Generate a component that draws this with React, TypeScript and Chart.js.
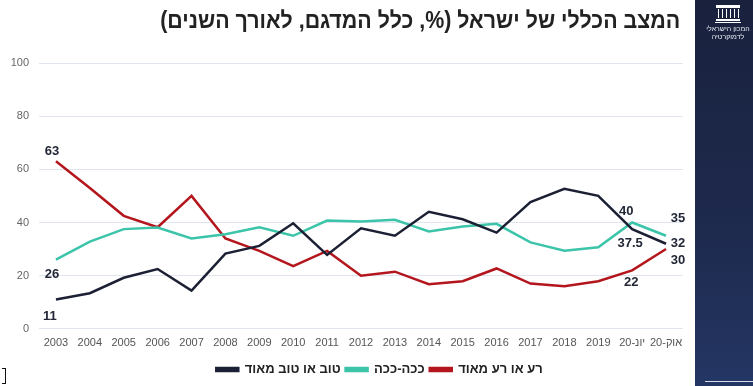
import React, { useEffect, useRef } from "react";
import { Chart, registerables } from "chart.js";

Chart.register(...registerables);

const categories = [
  "2003", "2004", "2005", "2006", "2007", "2008", "2009", "2010", "2011", "2012",
  "2013", "2014", "2015", "2016", "2017", "2018", "2019", "יונ-20", "אוק-20",
];

const goodValues = [11, 13.4, 19.2, 22.5, 14.4, 28.3, 31.2, 39.7, 27.8, 37.8, 35, 44, 41.2, 36.2, 47.7, 52.7, 50, 37.5, 32];
const sosoValues = [26, 32.8, 37.5, 38.1, 34, 35.6, 38.2, 35, 40.7, 40.4, 41, 36.6, 38.5, 39.5, 32.5, 29.4, 30.7, 40, 35];
const badValues = [63, 53, 42.5, 38.2, 50, 34, 29.3, 23.6, 29.3, 20, 21.5, 16.8, 17.9, 22.7, 17, 16, 17.9, 22, 30];

const seriesNames = ["טוב או טוב מאוד", "ככה-ככה", "רע או רע מאוד"];
const yTicks = [0, 20, 40, 60, 80, 100];

// which points carry a value label (dataset index, point index)
const labelledPoints = [
  [2, 0], [1, 0], [0, 0],
  [1, 17], [0, 17], [2, 17],
  [1, 18], [0, 18], [2, 18],
];

const TITLE = "המצב הכללי של ישראל (%, כלל המדגם, לאורך השנים)";
const FONT = '"Liberation Sans", Arial, sans-serif';

// label offsets relative to the point (layout only)
const labelOffsets = [
  [-4, -10], [-4, 15], [-6, 17],
  [-6, -11], [-2, 14], [-1, 12],
  [12, -17], [12, 0], [12, 11],
];

const pointLabelPlugin = {
  id: "pointLabelPlugin",
  afterDatasetsDraw(chart: any) {
    const ctx = chart.ctx;
    ctx.save();
    ctx.font = `bold 13px ${FONT}`;
    ctx.fillStyle = "#222736";
    ctx.textAlign = "center";
    ctx.textBaseline = "middle";
    labelledPoints.forEach(([ds, idx], i) => {
      const el = chart.getDatasetMeta(ds).data[idx];
      const v = chart.data.datasets[ds].data[idx];
      const [dx, dy] = labelOffsets[i];
      ctx.fillText(String(v), el.x + dx, el.y + dy);
    });
    ctx.restore();
  },
};

const legendShiftPlugin = {
  id: "legendShiftPlugin",
  afterLayout(chart: any) {
    const lg = chart.legend;
    if (lg) {
      lg.left += 38;
      lg.right += 38;
    }
  },
};

function ChartCanvas() {
  const ref = useRef<HTMLCanvasElement | null>(null);
  useEffect(() => {
    if (!ref.current) return;
    const colors = ["#1c2034", "#3cc4aa", "#b3161d"];
    const series = [goodValues, sosoValues, badValues];
    const chart = new Chart(ref.current, {
      type: "line",
      data: {
        labels: categories,
        datasets: series.map((d, i) => ({
          label: seriesNames[i],
          data: d,
          borderColor: colors[i],
          backgroundColor: colors[i],
          borderWidth: 2.5,
          pointRadius: 0,
          tension: 0,
          fill: false,
        })),
      },
      options: {
        animation: false,
        responsive: true,
        maintainAspectRatio: false,
        layout: { padding: { top: 63, left: 0, right: 12, bottom: 0 } },
        scales: {
          x: {
            offset: true,
            grid: { display: false, drawTicks: false },
            border: { display: false },
            ticks: {
              color: "#555",
              font: { family: FONT, size: 11 },
              padding: 8,
              maxRotation: 0,
              autoSkip: false,
            },
          },
          y: {
            min: 0,
            max: 100,
            afterFit: (s: any) => {
              s.width = 39;
            },
            afterBuildTicks: (s: any) => {
              s.ticks = yTicks.map((v) => ({ value: v }));
            },
            grid: { color: "#e0e4ee", drawTicks: false, lineWidth: 1 },
            border: { display: false },
            ticks: {
              color: "#666",
              font: { family: FONT, size: 11 },
              padding: 10,
            },
          },
        },
        plugins: {
          legend: {
            position: "bottom",
            labels: {
              boxWidth: 22,
              boxHeight: 3,
              padding: 5,
              color: "#222",
              font: { family: FONT, size: 13, weight: "bold" },
            },
          },
          tooltip: { enabled: false },
          title: { display: false },
        },
      },
      plugins: [pointLabelPlugin, legendShiftPlugin],
    } as any);
    return () => chart.destroy();
  }, []);
  return <canvas ref={ref} />;
}

function Logo() {
  const cols = [0, 1, 2, 3, 4, 5];
  return (
    <div style={{ position: "absolute", left: 0, top: 0, width: 58, height: 50 }}>
      <div style={{ position: "absolute", left: 21, top: 5, width: 24, height: 3, background: "#fff" }} />
      {cols.map((c) => (
        <div
          key={c}
          style={{ position: "absolute", left: 22.5 + c * 4, top: 9, width: 1.6, height: 9, background: "#fff" }}
        />
      ))}
      <div style={{ position: "absolute", left: 21, top: 18.5, width: 24, height: 2, background: "#fff" }} />
      <div style={{ position: "absolute", left: 20, top: 21.5, width: 26, height: 1.5, background: "#fff" }} />
      <div
        style={{
          position: "absolute",
          left: 0,
          top: 25,
          width: 66,
          textAlign: "center",
          direction: "rtl",
          color: "#e8ecf5",
          fontFamily: FONT,
          fontSize: 7,
          lineHeight: "8px",
        }}
      >
        <div>המכון הישראלי</div>
        <div>לדמוקרטיה</div>
      </div>
    </div>
  );
}

export default function App() {
  return (
    <div style={{ position: "absolute", left: 0, top: 0, width: 753, height: 386, background: "#fff", overflow: "hidden" }}>
      <div style={{ position: "absolute", left: 0, top: 0, width: 695, height: 386 }}>
        <ChartCanvas />
      </div>
      <div
        style={{
          position: "absolute",
          right: 73,
          top: 5,
          direction: "rtl",
          whiteSpace: "nowrap",
          fontFamily: FONT,
          fontWeight: "bold",
          fontSize: 23,
          lineHeight: "30px",
          color: "#222",
          transform: "scaleX(0.93)",
          transformOrigin: "right center",
        }}
      >
        {TITLE}
      </div>
      <div
        style={{
          position: "absolute",
          left: 695,
          top: 0,
          width: 58,
          height: 386,
          background: "linear-gradient(180deg, #19213d 0%, #1e2a4e 60%, #243664 100%)",
        }}
      >
        <Logo />
        <div style={{ position: "absolute", left: 10, top: 381, width: 48, height: 1, background: "#d8dce6" }} />
      </div>
      <div
        style={{
          position: "absolute",
          left: 2,
          top: 368,
          width: 3,
          height: 14,
          borderTop: "1px solid #111",
          borderRight: "1px solid #111",
          borderBottom: "1px solid #111",
        }}
      />
    </div>
  );
}
